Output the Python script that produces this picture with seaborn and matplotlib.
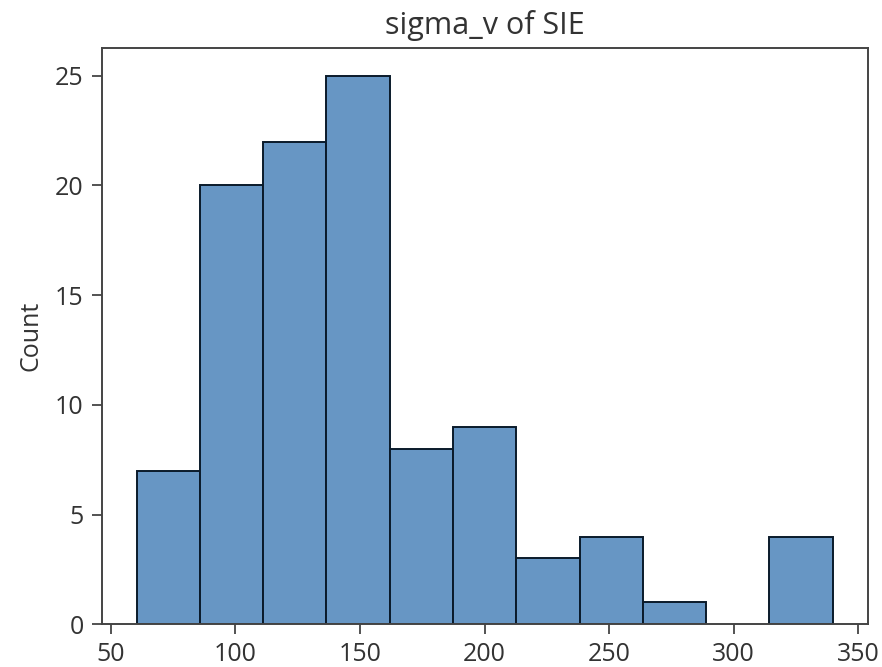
import numpy as np
import pandas as pd
import matplotlib
matplotlib.use("Agg")
import matplotlib.pyplot as plt
import seaborn as sns

# Histogram bins (sigma_v values) and counts
bin_edges = [60.3, 85.7, 111.1, 136.5, 161.9, 187.3, 212.7, 238.1, 263.5, 288.9, 314.3, 339.8]
counts = [7, 20, 22, 25, 8, 9, 3, 4, 1, 0, 4]
title = "sigma_v of SIE"
ylabel = "Count"

centers = [(a + b) / 2 for a, b in zip(bin_edges[:-1], bin_edges[1:])]
df = pd.DataFrame({"sigma_v": centers, "count": counts})

plt.rcParams["font.family"] = ["Open Sans", "DejaVu Sans"]
fig = plt.figure(figsize=(8.82, 6.67), dpi=100)
ax = fig.add_axes([0.1153, 0.064, 0.8685, 0.8636])
sns.histplot(data=df, x="sigma_v", weights="count", bins=bin_edges,
             color="#6796c4", alpha=1.0, edgecolor="#0a1a2a", linewidth=1.4, ax=ax)
# hide the empty (zero-height) bin outline
for p in ax.patches:
    if p.get_height() == 0:
        p.set_visible(False)
ax.set_title(title, fontsize=22, color="#333333", pad=10)
ax.set_xlabel("")
ax.set_ylabel(ylabel, fontsize=18, color="#333333", labelpad=8)
ax.set_xticks([50, 100, 150, 200, 250, 300, 350])
ax.set_yticks([0, 5, 10, 15, 20, 25])
ax.tick_params(labelsize=18, labelcolor="#333333", color="#444444", length=7, width=1.3, pad=6)
for s in ax.spines.values():
    s.set_color("#444444")
    s.set_linewidth(1.4)
fig.savefig("out.png", dpi=100)
